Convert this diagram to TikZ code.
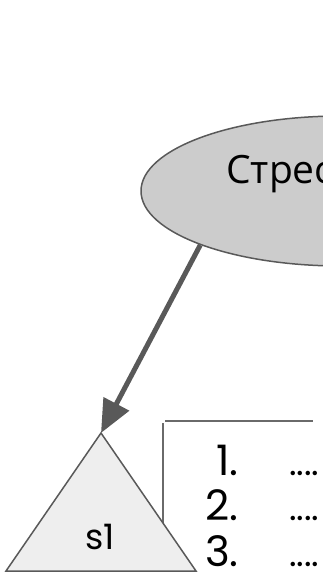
\documentclass[tikz,border=0pt]{standalone}
\usepackage{fontspec}
\setmainfont{Poppins}
\newfontfamily\cyrfont{Open Sans}
\usetikzlibrary{arrows.meta,shapes.geometric}

\definecolor{edgegray}{HTML}{595959}
\definecolor{ovalgray}{HTML}{CCCCCC}
\definecolor{trigray}{HTML}{EEEEEE}

\begin{document}
\begin{tikzpicture}[x=1pt,y=-1pt,
    outline/.style={draw=edgegray,line width=1.5pt},
    boxline/.style={draw=edgegray!90,line width=1.5pt},
    bigarrow/.style={draw=edgegray,line width=5pt,-{Triangle[length=33pt,width=28pt]}}]

\useasboundingbox (0,0) rectangle (323,572);

% the oval, its centre is off the page
\node[ellipse,outline,fill=ovalgray,minimum width=400pt,minimum height=150pt] (stress) at (341,191) {};
\node[anchor=base west,inner sep=0pt,font=\cyrfont\fontsize{39}{42}\selectfont] (stresstext) at (226,183) {Стрес};

% the list box, behind the triangle
\draw[boxline] (163,423) -- (163,540);
\draw[boxline] (165,421) -- (313,421);

\foreach \num/\ypos in {1/475, 2/520, 3/566} {
    \node[anchor=base east,inner sep=0pt,font=\fontsize{42}{44}\selectfont] (num\num) at (239,\ypos) {\num.};
    \node[anchor=base west,inner sep=0pt,font=\fontsize{36}{38}\selectfont] (dots\num) at (289,\ypos) {....};
}

% the triangle
\coordinate (apex) at (101,433);
\draw[outline,fill=trigray] (apex) -- (196,571) -- (6,571) -- cycle;
\node[anchor=base,inner sep=0pt,font=\fontsize{35}{37}\selectfont] (s1) at (100,549) {s1};

\draw[bigarrow] (stress.201) -- (apex);

\end{tikzpicture}
\end{document}
